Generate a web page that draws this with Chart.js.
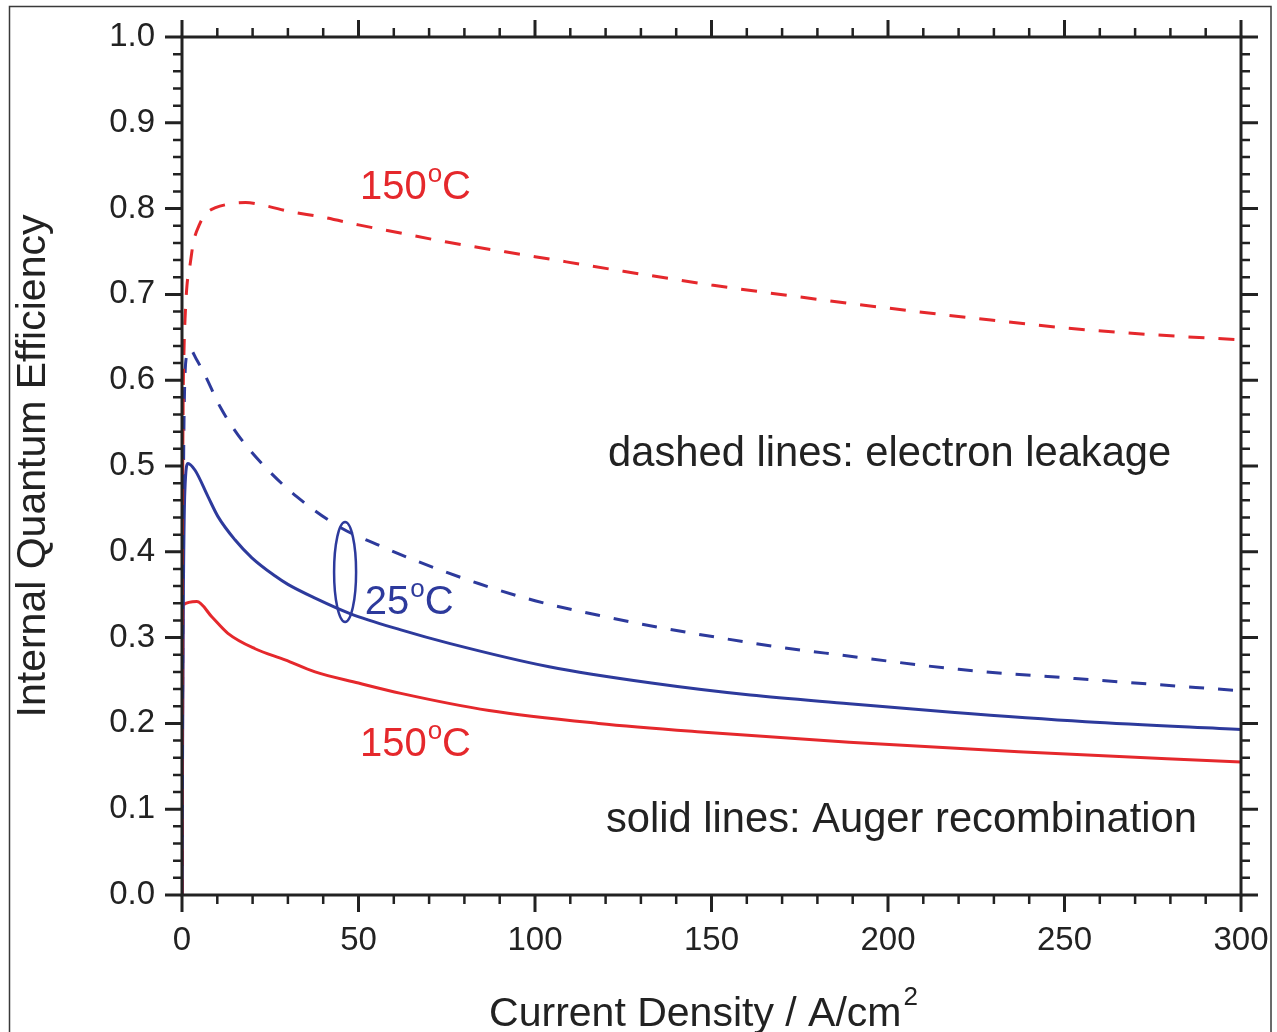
<!DOCTYPE html>
<html lang="en">
<head>
<meta charset="utf-8">
<title>Internal Quantum Efficiency</title>
<script src="https://cdn.jsdelivr.net/npm/chart.js"></script>
<style>
  body { margin: 0; background: #fff; }
  canvas { display: block; }
</style>
</head>
<body>
<canvas id="chart" width="1277" height="1032"></canvas>
<script>
  // 150 C, electron leakage (red dashed)
  const leak150X = [0, 0.1, 0.3, 0.6, 0.9, 1.4, 2.3, 3.2, 5, 7, 9.5, 13, 18, 24, 30, 40, 50, 60, 75, 100, 125, 150, 175, 200, 225, 250, 275, 300];
  const leak150Y = [0.0, 0.35, 0.56, 0.64, 0.675, 0.71, 0.735, 0.76, 0.782, 0.795, 0.801, 0.805, 0.807, 0.803, 0.797, 0.79, 0.781, 0.773, 0.761, 0.744, 0.727, 0.711, 0.697, 0.684, 0.672, 0.661, 0.653, 0.647];

  // 25 C, electron leakage (blue dashed)
  const leak25X = [0, 0.3, 0.8, 1.5, 2.3, 4, 6.5, 10.8, 15.9, 23.5, 32.6, 45, 55, 66, 84, 100, 118, 135, 152, 169, 186, 220, 254, 300];
  const leak25Y = [0, 0.4, 0.6, 0.63, 0.636, 0.625, 0.606, 0.569, 0.536, 0.499, 0.464, 0.428, 0.409, 0.39, 0.363, 0.343, 0.326, 0.312, 0.3, 0.289, 0.28, 0.263, 0.252, 0.238];

  // 25 C, Auger recombination (blue solid)
  const auger25X = [0, 0.3, 0.8, 1.7, 3.7, 7.4, 10.2, 15, 19.8, 26.3, 30, 37.7, 47.6, 62, 76, 104, 133, 161, 189, 218, 256, 300];
  const auger25Y = [0, 0.3, 0.47, 0.503, 0.495, 0.464, 0.441, 0.414, 0.393, 0.372, 0.362, 0.346, 0.328, 0.309, 0.293, 0.266, 0.247, 0.233, 0.223, 0.213, 0.202, 0.193];

  // 150 C, Auger recombination (red solid)
  const auger150X = [0, 0.3, 4.2, 8.5, 13, 20.7, 29.2, 37.7, 50, 62, 87, 118, 147, 189, 237, 300];
  const auger150Y = [0, 0.338, 0.342, 0.324, 0.305, 0.287, 0.274, 0.26, 0.247, 0.235, 0.215, 0.2, 0.19, 0.178, 0.167, 0.155];

  const xTickStep = 50, xMinorStep = 10;
  const yTickStep = 0.1, yMinorStep = 0.02;

  const RED = '#e5282c';
  const BLUE = '#2d3a9c';
  const INK = '#222222';
  const FONT = '"Liberation Sans", Arial, Helvetica, sans-serif';

  // text notes, anchored (left, baseline) in data units
  const notes = [
    { x: 50.4, y: 0.811, num: '150', deg: true, color: RED },
    { x: 120.7, y: 0.5, text: 'dashed lines: electron leakage', color: INK },
    { x: 51.8, y: 0.3275, num: '25', deg: true, color: BLUE },
    { x: 50.4, y: 0.162, num: '150', deg: true, color: RED },
    { x: 120.1, y: 0.0734, text: 'solid lines: Auger recombination', color: INK }
  ];
  const ringAt = { x: 46.2, y: 0.3765 };

  function pts(xs, ys) {
    return xs.map((x, i) => ({ x: x, y: ys[i] }));
  }

  function degText(ctx, x, y, num, color) {
    ctx.fillStyle = color;
    ctx.font = '40px ' + FONT;
    ctx.fillText(num, x, y);
    const w = ctx.measureText(num).width;
    ctx.font = '26px ' + FONT;
    ctx.fillText('o', x + w + 1, y - 17);
    const w2 = ctx.measureText('o').width;
    ctx.font = '40px ' + FONT;
    ctx.fillText('C', x + w + w2 + 1, y);
  }

  const decor = {
    id: 'decor',
    afterDatasetsDraw(chart) {
      const { ctx, chartArea: a, scales: { x, y } } = chart;
      ctx.save();

      // notes
      ctx.textAlign = 'left';
      ctx.textBaseline = 'alphabetic';
      notes.forEach(n => {
        const px = x.getPixelForValue(n.x), py = y.getPixelForValue(n.y);
        if (n.deg) {
          degText(ctx, px, py, n.num, n.color);
        } else {
          ctx.fillStyle = n.color;
          ctx.font = '41.7px ' + FONT;
          ctx.fillText(n.text, px, py);
        }
      });

      // ring grouping the 25 C pair
      ctx.strokeStyle = BLUE;
      ctx.lineWidth = 2.5;
      ctx.beginPath();
      ctx.ellipse(x.getPixelForValue(ringAt.x), y.getPixelForValue(ringAt.y), 11, 50, 0, 0, Math.PI * 2);
      ctx.stroke();

      // box and ticks on all four sides
      ctx.strokeStyle = INK;
      ctx.lineWidth = 3;
      ctx.strokeRect(a.left, a.top, a.right - a.left, a.bottom - a.top);
      const nx = Math.round((x.max - x.min) / xMinorStep);
      for (let i = 0; i <= nx; i++) {
        const v = x.min + i * xMinorStep;
        const px = x.getPixelForValue(v);
        const major = (i * xMinorStep) % xTickStep === 0;
        const len = major ? 17 : 9;
        ctx.lineWidth = major ? 3 : 2.5;
        ctx.beginPath();
        ctx.moveTo(px, a.bottom); ctx.lineTo(px, a.bottom + len);
        ctx.moveTo(px, a.top); ctx.lineTo(px, a.top - len);
        ctx.stroke();
      }
      const ny = Math.round((y.max - y.min) / yMinorStep);
      const per = Math.round(yTickStep / yMinorStep);
      for (let i = 0; i <= ny; i++) {
        const py = y.getPixelForValue(y.min + i * yMinorStep);
        const major = i % per === 0;
        const len = major ? 17 : 9;
        ctx.lineWidth = major ? 3 : 2.5;
        ctx.beginPath();
        ctx.moveTo(a.left - len, py); ctx.lineTo(a.left, py);
        ctx.moveTo(a.right, py); ctx.lineTo(a.right + len, py);
        ctx.stroke();
      }

      // x axis title with superscript
      ctx.fillStyle = INK;
      ctx.font = '41px ' + FONT;
      const main = 'Current Density / A/cm';
      const mw = ctx.measureText(main).width;
      ctx.font = '26px ' + FONT;
      const sw = ctx.measureText('2').width;
      const sx = (a.left + a.right) / 2 - 9 - (mw + sw) / 2;
      ctx.font = '41px ' + FONT;
      ctx.fillText(main, sx, 1026);
      ctx.font = '26px ' + FONT;
      ctx.fillText('2', sx + mw + 2, 1005);

      // outer frame
      ctx.strokeStyle = '#3a3a3a';
      ctx.lineWidth = 1.5;
      ctx.strokeRect(9.5, 6.5, 1261.5, 1100);
      ctx.restore();
    }
  };

  const line = (label, xs, ys, color, dash) => ({
    label: label,
    data: pts(xs, ys),
    borderColor: color,
    borderWidth: 3,
    borderDash: dash,
    pointRadius: 0,
    fill: false,
    cubicInterpolationMode: 'monotone'
  });

  new Chart(document.getElementById('chart'), {
    type: 'line',
    data: {
      datasets: [
        line('150°C electron leakage', leak150X, leak150Y, RED, [16, 14]),
        line('25°C electron leakage', leak25X, leak25Y, BLUE, [15, 14]),
        line('25°C Auger recombination', auger25X, auger25Y, BLUE, []),
        line('150°C Auger recombination', auger150X, auger150Y, RED, [])
      ]
    },
    options: {
      responsive: false,
      animation: false,
      devicePixelRatio: 1,
      layout: { padding: { left: 12, right: 36, top: 37, bottom: 0 } },
      plugins: { legend: { display: false }, tooltip: { enabled: false } },
      scales: {
        x: {
          type: 'linear',
          min: 0, max: 300,
          afterFit: s => { s.height = 137; s.paddingLeft = 0; s.paddingRight = 0; },
          grid: { display: false, drawTicks: false },
          border: { display: false },
          ticks: { stepSize: xTickStep, padding: 26, color: INK, font: { family: FONT, size: 33 }, autoSkip: false, maxRotation: 0 }
        },
        y: {
          min: 0, max: 1,
          afterFit: s => { s.width = 170; s.paddingTop = 0; s.paddingBottom = 0; },
          grid: { display: false, drawTicks: false },
          border: { display: false },
          ticks: { stepSize: yTickStep, padding: 27, color: INK, font: { family: FONT, size: 33 }, callback: v => v.toFixed(1) },
          title: { display: true, text: 'Internal Quantum Efficiency', color: INK, font: { family: FONT, size: 41, lineHeight: 1 }, padding: { top: 1, bottom: 0 } }
        }
      }
    },
    plugins: [decor]
  });
</script>
</body>
</html>
